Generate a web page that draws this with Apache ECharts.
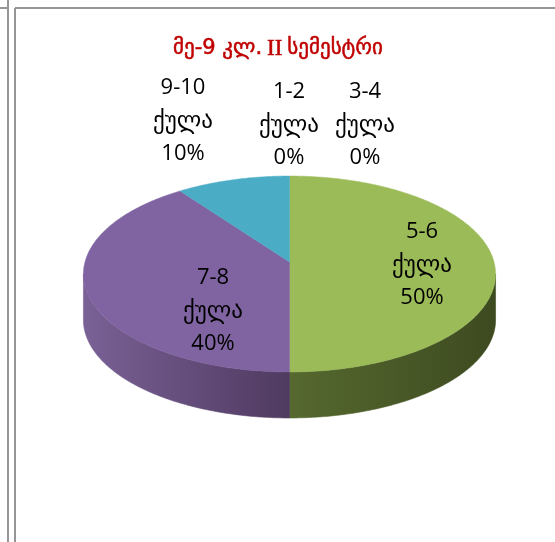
<!DOCTYPE html>
<html>
<head>
<meta charset="utf-8">
<style>html,body{margin:0;padding:0;background:#fff}#c{width:555px;height:542px}</style>
<script src="https://cdn.jsdelivr.net/npm/echarts@6/dist/echarts.min.js"></script>
</head>
<body>
<div id="c"></div>
<script>
const categories = ['1-2', '3-4', '5-6', '7-8', '9-10'];
const unitWord = 'ქულა';
const values = [0, 0, 50, 40, 10];
const topColors = ['#4f81bd', '#c0504d', '#9bbb59', '#8064a2', '#4bacc6'];
const wallColors = [
  ['#4f81bd', '#2c4d75'],
  ['#c0504d', '#772c2a'],
  ['#56692f', '#3d4a20'],
  ['#7a6196', '#4f3a60'],
  ['#4bacc6', '#2f6b7c']
];
const labelAnchors = [[289, 125], [365, 125], [422, 265], [213, 311], [183, 121]];

const chart = echarts.init(document.getElementById('c'), null, { renderer: 'canvas' });
const total = values.reduce((a, b) => a + b, 0);
const VX = 289.5, VY = 262, R = 204.5, A = 96.5, K = 0.1225, DEPTH = 46;
const project = (t) => {
  const s = Math.sin(t), c = Math.cos(t), d = 1 + K * c;
  return [VX + R * s / d, VY - A * c / d];
};
const EDGE = Math.acos(-K);

function arcPoints(a0, a1, dy) {
  const pts = [];
  const n = Math.max(2, Math.ceil((a1 - a0) / 0.01));
  for (let i = 0; i <= n; i++) {
    const p = project(a0 + (a1 - a0) * i / n);
    pts.push([p[0], p[1] + dy]);
  }
  return pts;
}

function renderSlice(params, api) {
  const i = params.dataIndex;
  const before = values.slice(0, i).reduce((a, b) => a + b, 0);
  const a0 = before / total * Math.PI * 2;
  const a1 = (before + values[i]) / total * Math.PI * 2;
  const children = [];
  if (values[i] > 0) {
    const w0 = Math.max(a0, EDGE), w1 = Math.min(a1, Math.PI * 2 - EDGE);
    if (w1 > w0) {
      const upper = arcPoints(w0, w1, 0);
      const lower = arcPoints(w0, w1, DEPTH).reverse();
      const fill = new echarts.graphic.LinearGradient(0, 0, 1, 0, [
        { offset: 0, color: wallColors[i][0] },
        { offset: 1, color: wallColors[i][1] }
      ]);
      children.push({
        type: 'polygon', z2: 1,
        shape: { points: upper.concat(lower) },
        style: { fill: fill, stroke: fill, lineWidth: 0.6 }
      });
    }
    children.push({
      type: 'polygon', z2: 2,
      shape: { points: [[VX, VY]].concat(arcPoints(a0, a1, 0)) },
      style: { fill: topColors[i], stroke: topColors[i], lineWidth: 0.5 }
    });
  }
  const lines = [categories[i], unitWord, Math.round(values[i] / total * 100) + '%'];
  const at = labelAnchors[i];
  lines.forEach((line, k) => {
    children.push({
      type: 'text', z2: 3,
      style: {
        text: line,
        x: at[0], y: at[1] + (k - 1) * 33,
        align: 'center', verticalAlign: 'middle',
        fill: '#000',
        font: (k === 1 ? '23px' : '22px') + ' "Open Sans", "DejaVu Sans", sans-serif'
      }
    });
  });
  return { type: 'group', children };
}

const frame = (x1, y1, x2, y2) => ({
  type: 'line', silent: true,
  shape: { x1, y1, x2, y2 },
  style: { stroke: '#969696', lineWidth: 2 }
});

chart.setOption({
  animation: false,
  backgroundColor: '#fff',
  title: {
    left: 273, top: 44, textAlign: 'center', textVerticalAlign: 'middle',
    text: '{a|მე-9 კლ.} {b|II} {a|სემესტრი}',
    textStyle: {
      rich: {
        a: { fontFamily: '"DejaVu Sans", sans-serif', fontSize: 21, fontWeight: 'normal', color: '#c00000', textBorderColor: '#c00000', textBorderWidth: 0.5 },
        b: { fontFamily: '"Liberation Serif", serif', fontSize: 23, fontWeight: 'normal', color: '#c00000', textBorderColor: '#c00000', textBorderWidth: 0.5 }
      }
    }
  },
  graphic: [
    frame(8, 0, 8, 542),
    frame(15, 8, 15, 542),
    frame(0, 8, 8, 8),
    frame(15, 8, 555, 8)
  ],
  series: [{
    type: 'custom',
    coordinateSystem: 'none',
    data: values,
    renderItem: renderSlice
  }]
});
</script>
</body>
</html>
